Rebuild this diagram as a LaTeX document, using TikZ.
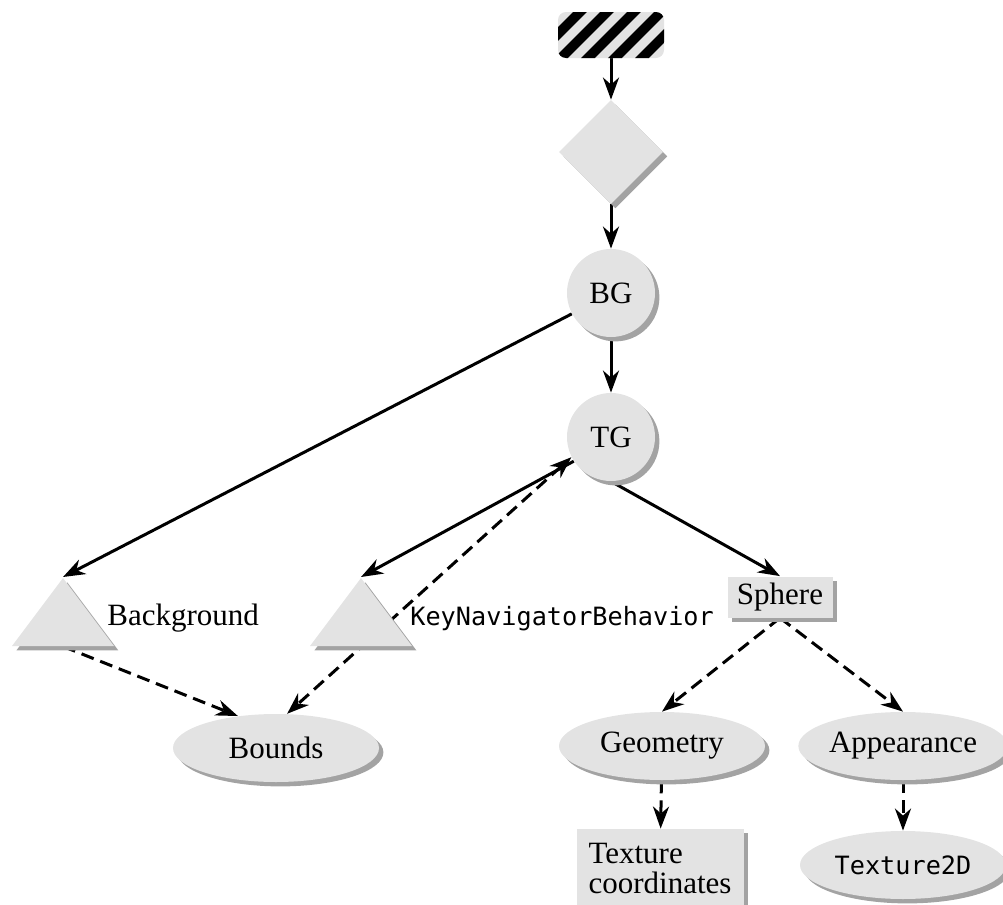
\documentclass[tikz,border=0pt]{standalone}
\usepackage{fontspec}
\setmainfont{Liberation Serif}
\setmonofont{DejaVu Sans Mono}
\usetikzlibrary{shapes.geometric,shadows,arrows.meta}
\pgfdeclarelayer{bg}
\pgfsetlayers{bg,main}
\definecolor{nodegray}{HTML}{E3E3E3}
\definecolor{shadegray}{HTML}{A3A3A3}
\newcommand\codefont{\ttfamily\fontsize{12.6}{15}\selectfont}
\tikzset{
  gnode/.style={fill=nodegray, inner sep=0pt,
    drop shadow={shadow xshift=2.2pt, shadow yshift=-2.2pt, fill=shadegray, opacity=1}},
  grp/.style={gnode, circle, minimum size=44pt},
  tri/.style={gnode, isosceles triangle, isosceles triangle stretches,
    shape border rotate=90, minimum width=51pt, minimum height=34pt},
  leaf/.style={gnode, ellipse, minimum width=103pt, minimum height=34pt},
  box/.style={gnode, rectangle},
  lbl/.style={inner sep=0pt, anchor=base west},
  link/.style={->, line width=1.5pt},
  dlink/.style={link, dash pattern=on 6.5pt off 3.5pt},
}

\begin{document}
\begin{tikzpicture}[x=0.5pt, y=-0.5pt, >={Stealth[length=11pt,width=8pt,inset=3.5pt]},
    font=\fontsize{15.5}{15}\selectfont]
        \useasboundingbox (0,0) rectangle (1003,905);
        % locale, branch group, transform group
        \node (start) [fill=nodegray, rounded corners=4pt, minimum width=53pt, minimum height=23pt,
            path picture={
                \foreach \k in {-4,...,4}
                        \draw[line width=4.8pt] ([xshift=\k*13.5pt-20pt, yshift=-20pt]path picture bounding box.center) -- ++(40pt,40pt);
            }] at (611,35) {};
        \node (gate) [gnode, diamond, minimum width=52pt, minimum height=52pt] at (611,152) {};
        \node (bg) [grp] at (611,293) {BG};
        \node (tg) [grp] at (611,437) {TG};
        % leaves
        \node (bgtri) [tri, anchor=apex] at (63,577) {};
        \node (bglabel) [lbl] at (107,625) {Background};
        \node (kntri) [tri, anchor=apex] at (361,577) {};
        \node (knlabel) [lbl] at (410,625) {\codefont KeyNavigatorBehavior};
        \node (sphere) [box, minimum width=52.5pt, minimum height=20.5pt] at (780,597) {Sphere};
        \node (bounds) [leaf] at (276,748) {Bounds};
        \node (geometry) [leaf] at (662,746) {Geometry};
        \node (appearance) [leaf] at (903,746) {Appearance};
        \node (texcoords) [box, align=left, minimum width=83.5pt, minimum height=39pt] at (660,868) {Texture\\coordinates};
        \node (tex2d) [leaf] at (903,865) {\codefont Texture2D};
        \begin{pgfonlayer}{bg}
                \draw[link] (start) -- (gate);
                \draw[link] (gate) -- (bg);
                \draw[link] (bg) -- (tg);
                \draw[link] (bg.208) -- (bgtri.apex);
                \draw[link] (tg.213) -- (kntri.apex);
                \draw[dlink, <->] (tg.207) -- (bounds.72);
                \draw[dlink] (bgtri.lower side) -- (bounds.140);
                \draw[link] (tg.south) -- (sphere.north);
                \draw[dlink] (sphere.south) -- (geometry.north);
                \draw[dlink] (sphere.south) -- (appearance.north);
                \draw[dlink] (geometry) -- (texcoords);
                \draw[dlink] (appearance) -- (tex2d);
        \end{pgfonlayer}
\end{tikzpicture}
\end{document}
